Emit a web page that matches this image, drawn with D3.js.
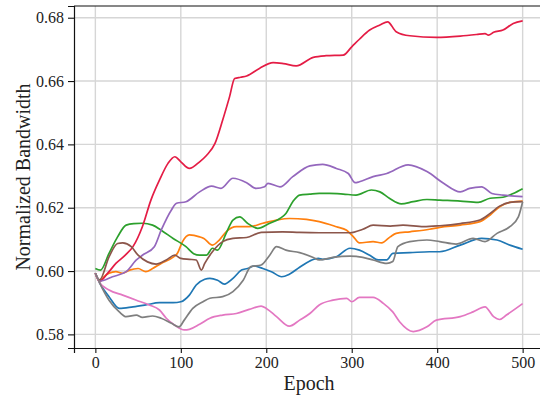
<!DOCTYPE html>
<html>
<head>
<meta charset="utf-8">
<script src="https://cdn.jsdelivr.net/npm/d3@7"></script>
<style>
  body { margin: 0; background: #fff; }
  svg text { font-family: "Liberation Serif", serif !important; fill: #222; }
  .tick text { font-size: 16px; }
  .axis-label { font-size: 20px; }
</style>
</head>
<body>
<div id="chart"></div>
<script>
// Series values: [epoch, normalized bandwidth]
const blue = [[0,0.5993],[5,0.5963],[16,0.5919],[28,0.5882],[44,0.5887],[59,0.5893],[75,0.59],[91,0.59],[100,0.5903],[110,0.5924],[118,0.5956],[128,0.5974],[134,0.5977],[143,0.5971],[151,0.5959],[161,0.5977],[171,0.6003],[178,0.6008],[186,0.6016],[196,0.6008],[206,0.5998],[218,0.5982],[227,0.599],[239,0.6012],[251,0.6032],[261,0.604],[266,0.6037],[282,0.6045],[298,0.6072],[309,0.6066],[321,0.605],[331,0.6035],[341,0.6035],[348,0.6056],[368,0.6058],[391,0.6061],[403,0.6061],[427,0.6082],[452,0.6103],[470,0.6098],[485,0.6082],[500,0.6069]];
const orange = [[0,0.5993],[5,0.5966],[10,0.5982],[16,0.5993],[24,0.5998],[32,0.5993],[40,0.6003],[50,0.6008],[59,0.5998],[67,0.6008],[77,0.6024],[89,0.604],[96,0.6056],[102,0.6093],[110,0.6114],[122,0.6108],[127,0.6103],[137,0.6082],[145,0.6098],[153,0.6124],[165,0.614],[180,0.614],[196,0.6151],[212,0.6161],[227,0.6166],[247,0.6163],[262,0.6156],[282,0.614],[294,0.6129],[302,0.6108],[309,0.6089],[325,0.6093],[335,0.6089],[345,0.6108],[352,0.6119],[368,0.6124],[391,0.6132],[403,0.6138],[427,0.6145],[450,0.6156],[462,0.6177],[473,0.6203],[485,0.6217],[500,0.6221]];
const green = [[0,0.6008],[6,0.6003],[16,0.6056],[26,0.6108],[36,0.6145],[45,0.615],[55,0.6151],[67,0.6145],[77,0.6129],[91,0.6103],[106,0.6077],[115,0.6055],[122,0.605],[130,0.605],[137,0.6072],[143,0.6066],[153,0.6119],[161,0.6161],[169,0.6171],[178,0.6151],[190,0.6135],[204,0.6151],[216,0.6166],[223,0.6182],[231,0.6219],[239,0.624],[251,0.6243],[262,0.6245],[274,0.6245],[290,0.6243],[305,0.624],[323,0.6256],[333,0.625],[344,0.623],[358,0.6212],[372,0.6219],[388,0.6226],[403,0.6224],[427,0.6221],[448,0.6217],[462,0.623],[477,0.6233],[489,0.6245],[500,0.626]];
const red = [[0,0.5993],[5,0.5968],[15,0.5995],[24,0.6024],[35,0.605],[44,0.6077],[55,0.614],[65,0.6224],[75,0.6287],[85,0.634],[93,0.6361],[100,0.6345],[110,0.6324],[122,0.6345],[130,0.6365],[140,0.6403],[149,0.6477],[157,0.655],[163,0.6608],[170,0.6612],[177,0.6616],[192,0.664],[208,0.6658],[220,0.6655],[235,0.6648],[255,0.6675],[270,0.668],[290,0.6682],[300,0.6708],[309,0.6732],[321,0.6761],[333,0.6777],[342,0.6787],[352,0.6756],[368,0.6743],[399,0.6738],[427,0.6742],[446,0.6747],[456,0.675],[460,0.6745],[466,0.6754],[477,0.6761],[489,0.6782],[500,0.679]];
const purple = [[0,0.5993],[5,0.5968],[20,0.5982],[36,0.5998],[48,0.6035],[55,0.605],[69,0.6077],[77,0.6129],[89,0.6193],[95,0.6214],[106,0.6219],[122,0.625],[136,0.6268],[147,0.6261],[161,0.6293],[177,0.6279],[188,0.6261],[198,0.6266],[202,0.6277],[216,0.6266],[231,0.6298],[251,0.6332],[266,0.6337],[282,0.6324],[296,0.6308],[304,0.6279],[309,0.6282],[325,0.6298],[341,0.6308],[366,0.6335],[388,0.6314],[407,0.6278],[427,0.625],[438,0.6261],[452,0.6266],[464,0.6245],[477,0.624],[500,0.6235]];
const brown = [[0,0.5993],[5,0.5972],[16,0.6045],[26,0.6087],[32,0.6089],[42,0.6077],[50,0.605],[61,0.6029],[71,0.6022],[83,0.6035],[93,0.605],[100,0.604],[110,0.6037],[118,0.6035],[124,0.6003],[128,0.6024],[137,0.6061],[149,0.6093],[161,0.6103],[177,0.6106],[194,0.6122],[219,0.6124],[239,0.6122],[262,0.6121],[274,0.6121],[298,0.6121],[313,0.6132],[325,0.6145],[345,0.6142],[360,0.6145],[384,0.614],[403,0.6143],[427,0.615],[450,0.6161],[462,0.6182],[473,0.6205],[485,0.6217],[500,0.6219]];
const pink = [[0,0.5993],[5,0.5963],[16,0.594],[32,0.5924],[48,0.5908],[63,0.5893],[75,0.5877],[83,0.5851],[93,0.5829],[104,0.5814],[110,0.5816],[122,0.5832],[134,0.5851],[149,0.5861],[165,0.5866],[180,0.5879],[194,0.5889],[200,0.5882],[212,0.5856],[227,0.5826],[239,0.5845],[251,0.5866],[262,0.5893],[278,0.5908],[294,0.5914],[300,0.5903],[309,0.5917],[325,0.5917],[337,0.5898],[348,0.5871],[356,0.584],[372,0.5809],[388,0.5824],[399,0.5845],[427,0.5856],[442,0.5871],[456,0.5887],[466,0.5856],[473,0.5847],[481,0.5861],[500,0.5897]];
const gray = [[0,0.5993],[5,0.5963],[16,0.5908],[28,0.5871],[36,0.5856],[48,0.5861],[55,0.5854],[67,0.5858],[77,0.5851],[89,0.5835],[98,0.5824],[104,0.5845],[114,0.5882],[126,0.5903],[134,0.5914],[149,0.5919],[161,0.5935],[173,0.5971],[182,0.6014],[194,0.6019],[204,0.605],[212,0.6077],[223,0.6066],[239,0.6058],[255,0.6043],[262,0.6035],[278,0.6043],[298,0.6047],[313,0.6043],[325,0.6035],[341,0.6024],[348,0.603],[354,0.6077],[368,0.6093],[388,0.6098],[403,0.6093],[422,0.6085],[442,0.6103],[456,0.6093],[470,0.6119],[485,0.614],[495,0.6171],[500,0.6219]];

const xTicks = [0, 100, 200, 300, 400, 500];
const yTicks = [0.58, 0.60, 0.62, 0.64, 0.66, 0.68];

// Plot frame (the right edge falls just outside the window, like the reference)
const margin = { top: 6, left: 74 },
      width = 470,
      height = 342;

const svg = d3.select("#chart").append("svg")
    .attr("width", 540)
    .attr("height", 400)
    .append("g")
    .attr("transform", `translate(${margin.left},${margin.top})`);

const x = d3.scaleLinear().domain([-25, 525]).range([0, width]);
const y = d3.scaleLinear().domain([0.5757, 0.6837]).range([height, 0]);

// Grid lines
svg.append("g").selectAll("line").data(xTicks).join("line")
    .attr("x1", d => x(d)).attr("x2", d => x(d))
    .attr("y1", 0).attr("y2", height)
    .attr("stroke", "#d6d6d6").attr("stroke-width", 1.4);
svg.append("g").selectAll("line").data(yTicks).join("line")
    .attr("x1", 0).attr("x2", width)
    .attr("y1", d => y(d)).attr("y2", d => y(d))
    .attr("stroke", "#d6d6d6").attr("stroke-width", 1.4);

// Lines, in the plotting order
const series = [
    { values: blue, color: "#1f77b4" },
    { values: orange, color: "#ff7f0e" },
    { values: green, color: "#2ca02c" },
    { values: red, color: "#e41c45" },
    { values: purple, color: "#9467bd" },
    { values: brown, color: "#8c564b" },
    { values: pink, color: "#e377c2" },
    { values: gray, color: "#7f7f7f" }
];

const line = d3.line()
    .curve(d3.curveMonotoneX)
    .x(d => x(d[0]))
    .y(d => y(d[1]));

svg.append("g").selectAll("path").data(series).join("path")
    .attr("d", d => line(d.values))
    .attr("fill", "none")
    .attr("stroke", d => d.color)
    .attr("stroke-width", 1.7)
    .attr("stroke-linejoin", "round");

// Axes
const xAxis = svg.append("g")
    .attr("transform", `translate(0,${height})`)
    .call(d3.axisBottom(x).tickValues(xTicks).tickSize(5).tickPadding(4));
const yAxis = svg.append("g")
    .call(d3.axisLeft(y).tickValues(yTicks).tickFormat(d3.format(".2f")).tickSize(6).tickPadding(4));

[xAxis, yAxis].forEach(a => {
    a.attr("font-family", "Liberation Serif").attr("font-size", 16);
    a.select(".domain").attr("stroke", "#111").attr("stroke-width", 1.2);
    a.selectAll(".tick line").attr("stroke", "#111").attr("stroke-width", 1.1);
    a.selectAll(".tick text")
        .attr("fill", "#222")
        .attr("font-family", "Liberation Serif");
});

// Top spine
svg.append("line")
    .attr("x1", 0).attr("x2", width)
    .attr("y1", 0).attr("y2", 0)
    .attr("stroke", "#111").attr("stroke-width", 1.2);

// Axis labels
svg.append("text")
    .attr("class", "axis-label")
    .attr("x", x(250))
    .attr("y", 384)
    .style("text-anchor", "middle")
    .text("Epoch");

svg.append("text")
    .attr("class", "axis-label")
    .attr("transform", `translate(${30 - margin.left},${height / 2}) rotate(-90)`)
    .style("text-anchor", "middle")
    .text("Normalized Bandwidth");
</script>
</body>
</html>
